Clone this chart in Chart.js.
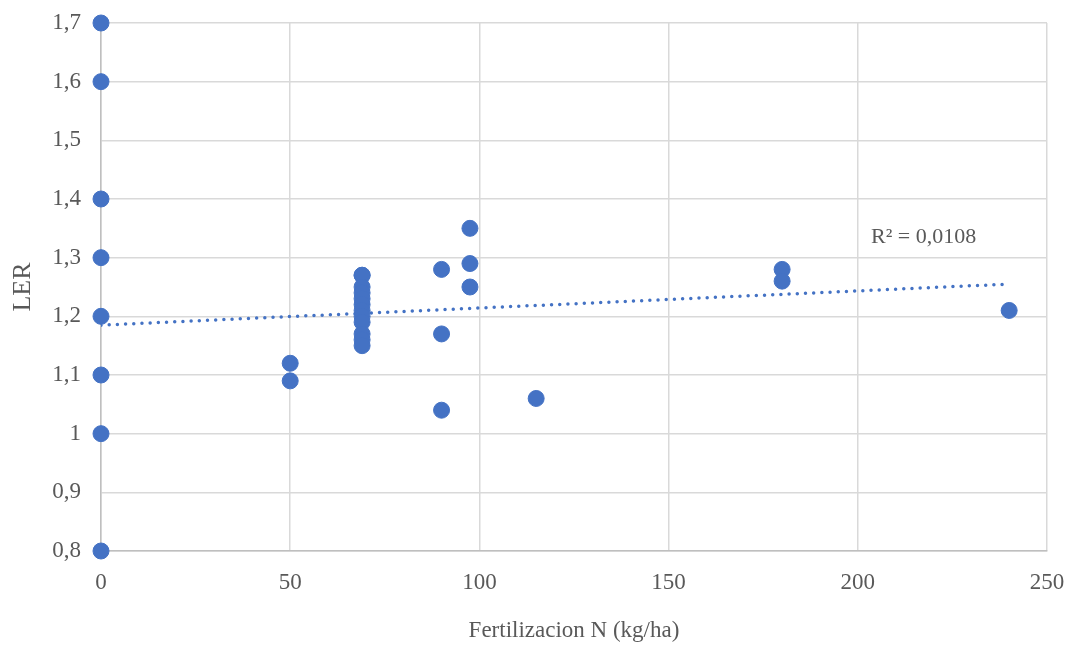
<!DOCTYPE html>
<html>
<head>
<meta charset="utf-8">
<script src="https://cdn.jsdelivr.net/npm/chart.js@4.4.1/dist/chart.umd.min.js"></script>
<style>
  html, body { margin: 0; padding: 0; background: #fff; }
  #wrap { width: 1071px; height: 645px; position: relative; }
</style>
</head>
<body>
<div id="wrap"><canvas id="chart"></canvas></div>
<script>
// ── Data ──
const fertN = [
  0, 0, 0, 0, 0, 0, 0, 0,
  50, 50,
  69, 69, 69, 69, 69, 69, 69, 69, 69, 69, 69, 69,
  90, 90, 90,
  97.5, 97.5, 97.5,
  115,
  180, 180,
  240
];
const ler = [
  1.7, 1.6, 1.4, 1.3, 1.2, 1.1, 1.0, 0.8,
  1.12, 1.09,
  1.27, 1.27, 1.25, 1.24, 1.23, 1.22, 1.21, 1.20, 1.19, 1.17, 1.16, 1.15,
  1.28, 1.17, 1.04,
  1.35, 1.29, 1.25,
  1.06,
  1.28, 1.26,
  1.21
];
const trendX = [0, 240];
const trendY = [1.185, 1.255];
const r2Label = 'R² = 0,0108';
const r2Pos = { x: 203.5, y: 1.335 };

const xTitle = 'Fertilizacion N (kg/ha)';
const yTitle = 'LER';

const BLUE = '#4472C4';
const GRID = '#d9d9d9';
const TEXT = '#595959';
const FONT = "'Liberation Serif', 'Times New Roman', serif";

// R² annotation drawn in data coordinates
const r2Plugin = {
  id: 'r2Label',
  afterDatasetsDraw(chart) {
    const { ctx, scales } = chart;
    const px = scales.x.getPixelForValue(r2Pos.x);
    const py = scales.y.getPixelForValue(r2Pos.y);
    ctx.save();
    ctx.font = '22px ' + FONT;
    ctx.fillStyle = TEXT;
    ctx.textAlign = 'left';
    ctx.textBaseline = 'middle';
    ctx.fillText(r2Label, px, py);
    ctx.restore();
  }
};

new Chart(document.getElementById('chart'), {
  type: 'scatter',
  data: {
    datasets: [
      {
        label: 'LER',
        data: fertN.map((x, i) => ({ x, y: ler[i] })),
        backgroundColor: BLUE,
        borderColor: BLUE,
        pointRadius: 8,
        pointHoverRadius: 8,
        clip: false,
        order: 1,
      },
      {
        label: 'Tendencia',
        type: 'line',
        data: trendX.map((x, i) => ({ x, y: trendY[i] })),
        borderColor: BLUE,
        borderWidth: 3.5,
        borderDash: [0, 8.2],
        borderCapStyle: 'round',
        pointRadius: 0,
        fill: false,
        order: 2,
      }
    ]
  },
  options: {
    responsive: true,
    maintainAspectRatio: false,
    animation: false,
    layout: { padding: { top: 23, right: 24, left: 0, bottom: 0 } },
    plugins: {
      legend: { display: false },
      tooltip: { enabled: false },
    },
    scales: {
      x: {
        type: 'linear',
        min: 0, max: 250,
        afterFit: s => { s.height = 94; s.paddingLeft = 0; s.paddingRight = 0; },
        grid: { color: GRID, lineWidth: 1.5, drawTicks: false },
        border: { color: '#bfbfbf', width: 1.5 },
        ticks: {
          stepSize: 50,
          color: TEXT,
          padding: 18,
          font: { family: FONT, size: 23 },
        },
        title: {
          display: true,
          text: xTitle,
          color: TEXT,
          font: { family: FONT, size: 23 },
          padding: { top: 22, bottom: 0 },
        },
      },
      y: {
        min: 0.8, max: 1.7,
        afterFit: s => { s.width = 101; s.paddingTop = 0; s.paddingBottom = 0; },
        grid: { color: GRID, lineWidth: 1.5, drawTicks: false },
        border: { color: '#bfbfbf', width: 1.5 },
        ticks: {
          stepSize: 0.1,
          color: TEXT,
          padding: 20,
          font: { family: FONT, size: 23 },
          callback: v => String(Math.round(v * 10) / 10).replace('.', ','),
        },
        title: {
          display: true,
          text: yTitle,
          color: TEXT,
          font: { family: FONT, size: 26 },
          padding: { top: 8, bottom: 0 },
        },
      },
    },
  },
  plugins: [r2Plugin],
});
</script>
</body>
</html>
